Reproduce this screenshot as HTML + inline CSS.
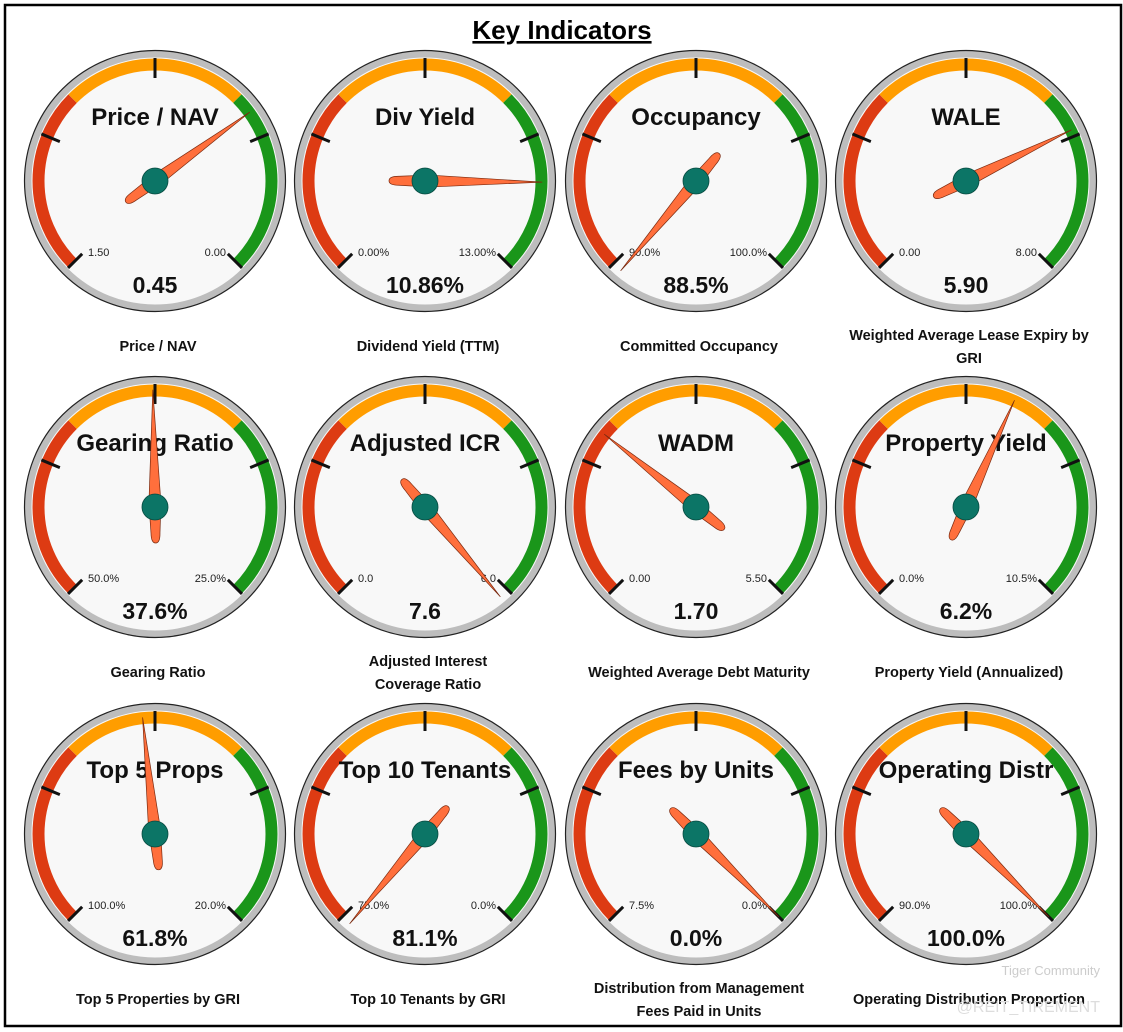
<!DOCTYPE html>
<html><head><meta charset="utf-8"><style>
html,body{margin:0;padding:0;background:#fff;width:1123px;height:1032px;overflow:hidden}
svg{display:block}
</style></head><body>
<svg id="chart" width="1123" height="1032" viewBox="0 0 1123 1032" xmlns="http://www.w3.org/2000/svg">
<rect x="5" y="5" width="1116" height="1021" fill="#fff" stroke="#000" stroke-width="2.5"/>
<text x="562" y="39" text-anchor="middle" font-family="Liberation Sans, sans-serif" font-weight="bold" font-size="26" text-decoration="underline">Key Indicators</text>
<g id="gauges"></g>
<text x="1100" y="975" text-anchor="end" font-family="Liberation Sans, sans-serif" font-size="13" fill="#ccc">Tiger Community</text>
<text x="1100" y="1012" text-anchor="end" font-family="Liberation Sans, sans-serif" font-size="16" fill="#ddd">@REIT_TIREMENT</text>
</svg>
<script>
const titles = ["Price / NAV","Div Yield","Occupancy","WALE","Gearing Ratio","Adjusted ICR","WADM","Property Yield","Top 5 Props","Top 10 Tenants","Fees by Units","Operating Distr"];
const captions = [["Price / NAV"],["Dividend Yield (TTM)"],["Committed Occupancy"],["Weighted Average Lease Expiry by","GRI"],["Gearing Ratio"],["Adjusted Interest","Coverage Ratio"],["Weighted Average Debt Maturity"],["Property Yield (Annualized)"],["Top 5 Properties by GRI"],["Top 10 Tenants by GRI"],["Distribution from Management","Fees Paid in Units"],["Operating Distribution Proportion"]];
const minVals = [1.5,0,90,0,50,0,0,0,100,75,7.5,90];
const maxVals = [0,13,100,8,25,6,5.5,10.5,20,0,0,100];
const values = [0.45,10.86,88.5,5.90,37.6,7.6,1.70,6.2,61.8,81.1,0.0,100.0];
const minLabels = ["1.50","0.00%","90.0%","0.00","50.0%","0.0","0.00","0.0%","100.0%","75.0%","7.5%","90.0%"];
const maxLabels = ["0.00","13.00%","100.0%","8.00","25.0%","6.0","5.50","10.5%","20.0%","0.0%","0.0%","100.0%"];
const valueLabels = ["0.45","10.86%","88.5%","5.90","37.6%","7.6","1.70","6.2%","61.8%","81.1%","0.0%","100.0%"];

const NS="http://www.w3.org/2000/svg";
const root=document.getElementById('gauges');
const colX=[155,425,696,966], rowY=[181,507,834];
const FONT="Liberation Sans, sans-serif";
function mk(tag,attrs,parent){const e=document.createElementNS(NS,tag);for(const k in attrs)e.setAttribute(k,attrs[k]);parent.appendChild(e);return e;}
function pt(cx,cy,r,a){const t=a*Math.PI/180;return [cx+r*Math.sin(t),cy-r*Math.cos(t)];}
function off(p,a,d){const t=(a+90)*Math.PI/180;return [p[0]+d*Math.sin(t),p[1]-d*Math.cos(t)];}
function arc(cx,cy,r,a0,a1){const p0=pt(cx,cy,r,a0),p1=pt(cx,cy,r,a1);return `M${p0[0]},${p0[1]} A${r},${r} 0 ${a1-a0>180?1:0} 1 ${p1[0]},${p1[1]}`;}
function angleFor(i){let f=(values[i]-minVals[i])/(maxVals[i]-minVals[i]);let a=-135+270*f;return Math.max(-140,Math.min(140,a));}

titles.forEach((t,i)=>{
  const cx=colX[i%4], cy=rowY[Math.floor(i/4)];
  const g=mk('g',{},root);
  
  
  const bz=mk('circle',{cx,cy,r:127,fill:'#f8f8f8',stroke:'#bdbdbd','stroke-width':7},g);
  
  
  mk('circle',{cx,cy,r:130.5,fill:'none',stroke:'#222','stroke-width':1.2},g);
  const bands=[[-135,-45,'#dd3b13'],[-45,45,'#ff9d00'],[45,135,'#1a961a']];
  bands.forEach(b=>{const p=mk('path',{d:arc(cx,cy,116.5,b[0],b[1]),fill:'none',stroke:b[2],'stroke-width':12},g);
    
    });
  for(let k=0;k<5;k++){const a=-135+67.5*k;const p0=pt(cx,cy,103,a),p1=pt(cx,cy,123,a);
    const l=mk('line',{x1:p0[0],y1:p0[1],x2:p1[0],y2:p1[1],stroke:'#111','stroke-width':3},g);
    
    }
  const tt=mk('text',{x:cx,y:cy-56,'text-anchor':'middle','font-family':FONT,'font-weight':'bold','font-size':24,fill:'#111'},g);
  tt.textContent=t;
  
  
  const mn=mk('text',{x:cx-67,y:cy+75,'font-family':FONT,'font-size':11,fill:'#222'},g);mn.textContent=minLabels[i];
  
  
  const mx=mk('text',{x:cx+71,y:cy+75,'text-anchor':'end','font-family':FONT,'font-size':11,fill:'#222'},g);mx.textContent=maxLabels[i];
  
  
  const vt=mk('text',{x:cx,y:cy+112,'text-anchor':'middle','font-family':FONT,'font-weight':'bold','font-size':23,fill:'#111'},g);vt.textContent=valueLabels[i];
  
  
  const a=angleFor(i);
  const tip=pt(cx,cy,117,a);
  const w1=pt(cx,cy,4,a), w2=pt(cx,cy,-26,a), tail=pt(cx,cy,-36,a);
  const l1=off(w1,a,6), r1=off(w1,a,-6), l2=off(w2,a,4.5), r2=off(w2,a,-4.5);
  const lt=off(tail,a,1.5), rt=off(tail,a,-1.5);
  const d=`M${tip[0]},${tip[1]} L${l1[0]},${l1[1]} L${l2[0]},${l2[1]} Q${tail[0]+(lt[0]-tail[0])*3},${tail[1]+(lt[1]-tail[1])*3} ${tail[0]},${tail[1]} Q${tail[0]+(rt[0]-tail[0])*3},${tail[1]+(rt[1]-tail[1])*3} ${r2[0]},${r2[1]} L${r1[0]},${r1[1]} Z`;
  const nd=mk('path',{d,fill:'#ff6f3c',stroke:'#7a2a10','stroke-width':0.7,'stroke-linejoin':'round'},g);
  
  
  const hub=mk('circle',{cx,cy,r:13,fill:'#0c7566',stroke:'#064a40','stroke-width':0.8},g);
  
  
  const cap=captions[i];const base=cy+170-(cap.length-1)*11;
  cap.forEach((line,j)=>{const c=mk('text',{x:cx+3,y:base+j*23,'text-anchor':'middle','font-family':FONT,'font-weight':'bold','font-size':14.5,fill:'#111'},g);
    c.textContent=line;
    
    });
});
</script>
</body></html>
